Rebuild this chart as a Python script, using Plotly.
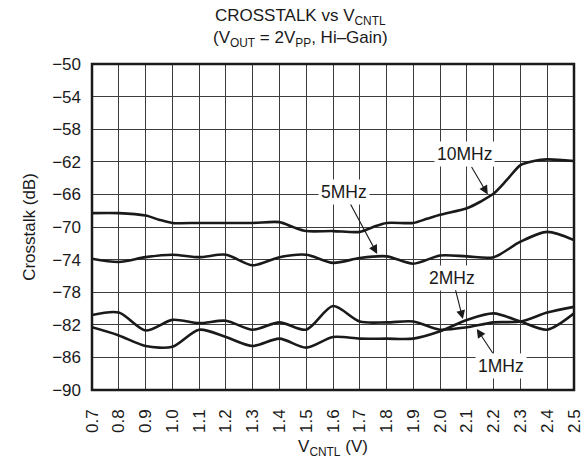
import plotly.graph_objects as go

# Crosstalk versus control voltage, four test frequencies
v_1mhz = [0.7, 0.8, 0.9, 1.0, 1.1, 1.2, 1.3, 1.4, 1.5, 1.6, 1.7, 1.8, 1.9, 2.0, 2.1, 2.2, 2.3, 2.4, 2.5]
xt_1mhz = [-80.8, -80.5, -82.7, -81.4, -81.8, -81.5, -82.6, -81.7, -82.6, -79.7,
           -81.6, -81.7, -81.6, -82.6, -82.3, -81.7, -81.6, -80.5, -79.8]

v_2mhz = [0.7, 0.8, 0.9, 1.0, 1.1, 1.2, 1.3, 1.4, 1.5, 1.6, 1.7, 1.8, 1.9, 2.0, 2.1, 2.2, 2.3, 2.4, 2.5]
xt_2mhz = [-82.3, -83.3, -84.6, -84.7, -82.6, -83.5, -84.6, -83.7, -84.8, -83.5,
           -83.7, -83.7, -83.7, -82.8, -81.4, -80.6, -81.6, -82.6, -80.6]

v_5mhz = [0.7, 0.8, 0.9, 1.0, 1.1, 1.2, 1.3, 1.4, 1.5, 1.6, 1.7, 1.8, 1.9, 2.0, 2.1, 2.2, 2.3, 2.4, 2.5]
xt_5mhz = [-73.9, -74.3, -73.7, -73.4, -73.7, -73.4, -74.7, -73.7, -73.4, -74.4,
           -73.8, -73.6, -74.5, -73.5, -73.6, -73.7, -71.8, -70.6, -71.6]

v_10mhz = [0.7, 0.8, 0.9, 0.95, 1.0, 1.1, 1.2, 1.3, 1.4, 1.45, 1.5, 1.6, 1.7, 1.75, 1.8,
           1.9, 1.95, 2.0, 2.1, 2.15, 2.2, 2.25, 2.3, 2.35, 2.4, 2.5]
xt_10mhz = [-68.3, -68.3, -68.6, -69.1, -69.5, -69.5, -69.5, -69.5, -69.4, -70.0, -70.5,
            -70.5, -70.6, -70.0, -69.5, -69.5, -69.0, -68.5, -67.7, -66.9, -65.9, -64.2,
            -62.4, -61.9, -61.7, -61.9]

x_ticks = [round(0.7 + 0.1 * i, 1) for i in range(19)]
y_ticks = list(range(-90, -49, 4))

FONT = "Liberation Sans, Arial, sans-serif"
INK = "#1a1a1a"

fig = go.Figure()
for xs, ys, name in [(v_1mhz, xt_1mhz, "1MHz"), (v_2mhz, xt_2mhz, "2MHz"),
                     (v_5mhz, xt_5mhz, "5MHz"), (v_10mhz, xt_10mhz, "10MHz")]:
    fig.add_trace(go.Scatter(
        x=xs, y=ys, mode="lines", name=name,
        line=dict(color=INK, width=2.6, shape="spline", smoothing=0.8),
        hoverinfo="skip",
    ))

# Curve labels, each with a leader arrow pointing at its curve
labels = [
    # text, text x, text y, arrow tip x, arrow tip y
    ("10MHz", 2.090, -61.1, 2.178, -66.0),
    ("5MHz", 1.641, -65.7, 1.765, -73.3),
    ("2MHz", 2.046, -76.2, 2.085, -81.3),
    ("1MHz", 2.227, -87.0, 2.137, -82.5),
]
for txt, tx, ty, hx, hy in labels:
    fig.add_annotation(
        x=hx, y=hy, ax=tx, ay=ty, xref="x", yref="y", axref="x", ayref="y",
        text=txt, showarrow=True, arrowhead=2, arrowsize=1.6, arrowwidth=1.1,
        arrowcolor=INK, standoff=0,
        font=dict(family=FONT, size=17.5, color=INK),
        bgcolor="white", borderpad=2,
    )

# Two-line title
fig.add_annotation(
    x=0.432, y=1 + (64 - 17) / 326, xref="paper", yref="paper",
    text="CROSSTALK vs V<sub>CNTL</sub>", showarrow=False,
    font=dict(family=FONT, size=17, color=INK), xanchor="center", yanchor="middle",
)
fig.add_annotation(
    x=0.432, y=1 + (64 - 39) / 326, xref="paper", yref="paper",
    text="(V<sub>OUT</sub> = 2V<sub>PP</sub>, Hi–Gain)", showarrow=False,
    font=dict(family=FONT, size=17, color=INK), xanchor="center", yanchor="middle",
)

# Heavy frame around the plotting area
fig.add_shape(
    type="rect", xref="paper", yref="paper", x0=0, y0=0, x1=1, y1=1,
    line=dict(color=INK, width=2.5), layer="above",
)

fig.update_layout(
    width=581, height=459,
    margin=dict(l=92, r=7, t=64, b=69),
    paper_bgcolor="white", plot_bgcolor="white",
    showlegend=False,
    font=dict(family=FONT, size=17, color=INK),
)
fig.update_xaxes(
    range=[0.7, 2.5], tickvals=x_ticks, ticktext=[f"{v:.1f}" for v in x_ticks],
    tickangle=-90, ticks="", ticklabelstandoff=15, ticklabeloverflow="allow",
    showgrid=True, gridcolor="#3c3c3c", gridwidth=1,
    showline=False, zeroline=False, automargin=False,
    title=dict(text="V<sub>CNTL</sub> (V)", standoff=8, font=dict(size=17)),
)
fig.update_yaxes(
    range=[-90, -50], tickvals=y_ticks, ticks="", ticklabelstandoff=10,
    showgrid=True, gridcolor="#3c3c3c", gridwidth=1,
    showline=False, zeroline=False, automargin=False,
    title=dict(text="Crosstalk (dB)", standoff=12, font=dict(size=17)),
)

fig.write_html("out.html")
